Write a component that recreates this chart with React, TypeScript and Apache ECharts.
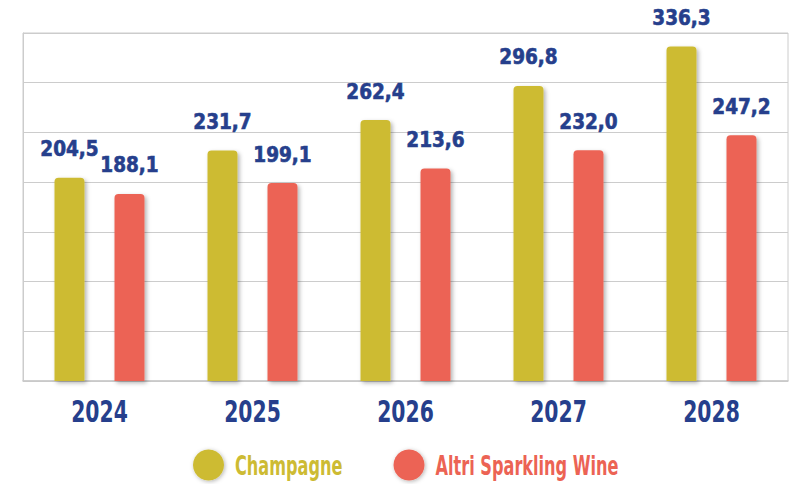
import React, { useEffect, useRef } from "react";
import * as echarts from "echarts";

const categories = ["2024", "2025", "2026", "2027", "2028"];
const champagne = [204.5, 231.7, 262.4, 296.8, 336.3];
const altri = [188.1, 199.1, 213.6, 232.0, 247.2];
const seriesNames = ["Champagne", "Altri Sparkling Wine"];

const FONT = "'DejaVu Sans Condensed', 'DejaVu Sans', sans-serif";
const GOLD = "#CDBB33";
const CORAL = "#EC6354";
const NAVY = "#263F8C";

export default function App() {
  const ref = useRef<HTMLDivElement>(null);
  useEffect(() => {
    document.body.style.margin = "0";
    const chart = echarts.init(ref.current!, null, { renderer: "svg" });
    const fmt = (p: any) => Number(p.value).toFixed(1).replace(".", ",");
    const shadow = {
      shadowBlur: 4,
      shadowColor: "rgba(0,0,0,0.3)",
      shadowOffsetX: 2,
      shadowOffsetY: 2,
    };
    const mkSeries = (name: string, data: number[], color: string) => ({
      name,
      type: "bar",
      data,
      barWidth: 30,
      barGap: "100%",
      itemStyle: { color, borderRadius: [4, 4, 0, 0], ...shadow },
      label: {
        show: true,
        position: "top",
        distance: 18,
        formatter: fmt,
        color: NAVY,
        fontFamily: FONT,
        fontWeight: "bold",
        fontSize: 20.5,
        textBorderColor: NAVY,
        textBorderWidth: 0.6,
      },
    });
    const legendItem = (cx: number, label: string, color: string) => ({
      type: "group",
      children: [
        {
          type: "circle",
          shape: { cx, cy: 465, r: 15.5 },
          style: {
            fill: color,
            shadowBlur: 4,
            shadowColor: "rgba(0,0,0,0.3)",
            shadowOffsetX: 1,
            shadowOffsetY: 1,
          },
        },
        {
          type: "text",
          x: cx + 26.5,
          y: 466,
          scaleX: 0.69,
          style: {
            text: label,
            fill: color,
            font: `bold 26px ${FONT}`,
            textAlign: "left",
            textVerticalAlign: "middle",
          },
        },
      ],
    });
    chart.setOption({
      animation: false,
      grid: {
        left: 23,
        right: 3,
        top: 33,
        bottom: 103,
        show: true,
        borderColor: "#cccccc",
        borderWidth: 1,
      },
      graphic: [
        legendItem(208.5, seriesNames[0], GOLD),
        legendItem(409, seriesNames[1], CORAL),
      ],
      xAxis: {
        type: "category",
        data: categories,
        axisLine: { show: true, lineStyle: { color: "#c8c8c8", width: 1.5 } },
        axisTick: { show: false },
        axisLabel: { show: false },
      },
      yAxis: {
        type: "value",
        min: 0,
        max: 350,
        interval: 50,
        axisLine: { show: true, lineStyle: { color: "#cccccc" } },
        axisLabel: { show: false },
        axisTick: { show: false },
        splitLine: { show: true, lineStyle: { color: "#cccccc", width: 1 } },
      },
      series: [
        mkSeries(seriesNames[0], champagne, GOLD),
        mkSeries(seriesNames[1], altri, CORAL),
        {
          name: "categoryLabels",
          type: "custom",
          clip: false,
          silent: true,
          data: categories.map((_, i) => [i, 0]),
          renderItem: (params: any, api: any) => {
            const p = api.coord([api.value(0), 0]);
            return {
              type: "text",
              x: p[0],
              y: p[1] + 30,
              scaleX: 0.73,
              style: {
                text: categories[params.dataIndex],
                fill: NAVY,
                font: `bold 31px ${FONT}`,
                textAlign: "center",
                textVerticalAlign: "middle",
              },
            };
          },
        },
      ],
    });
    return () => chart.dispose();
  }, []);
  return <div ref={ref} style={{ width: 791, height: 484 }} />;
}
